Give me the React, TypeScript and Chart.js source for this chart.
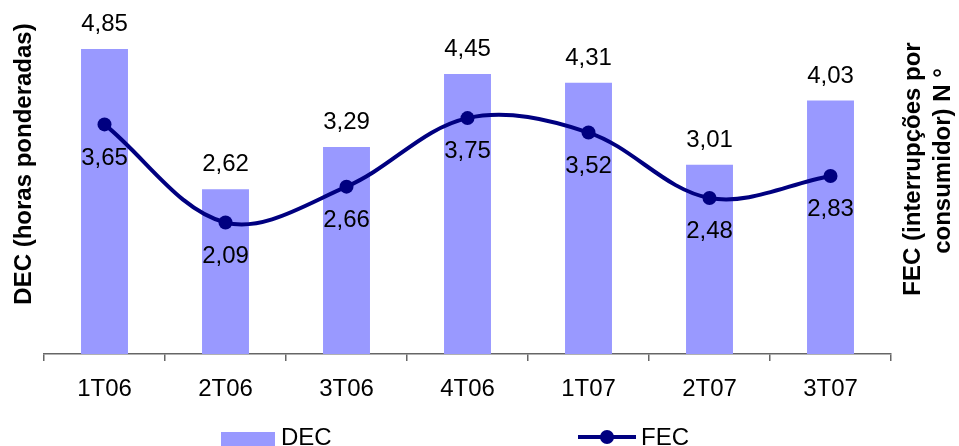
import React, { useEffect, useRef } from "react";
import { Chart, registerables } from "chart.js";

Chart.register(...registerables);

// Quarterly reliability indicators
const quarters = ["1T06", "2T06", "3T06", "4T06", "1T07", "2T07", "3T07"];
const decValues = [4.85, 2.62, 3.29, 4.45, 4.31, 3.01, 4.03];
const fecValues = [3.65, 2.09, 2.66, 3.75, 3.52, 2.48, 2.83];

const leftTitle = "DEC (horas ponderadas)";
const rightTitleLines = ["FEC (interrupções por", "consumidor) N °"];

const FONT = "'Liberation Sans', Arial, Helvetica, sans-serif";
const BAR_COLOR = "#9999FF";
const LINE_COLOR = "#000080";
const AXIS_COLOR = "#666666";

const fmt = (v: number) => v.toFixed(2).replace(".", ",");

// Value labels: above the bars, below the line points
const valueLabels = {
  id: "valueLabels",
  afterDatasetsDraw(chart: Chart) {
    const ctx = chart.ctx;
    ctx.save();
    ctx.font = `24px ${FONT}`;
    ctx.fillStyle = "#000";
    ctx.textAlign = "center";
    ctx.textBaseline = "middle";
    chart.data.datasets.forEach((ds, i) => {
      const meta = chart.getDatasetMeta(i);
      meta.data.forEach((el: any, j: number) => {
        const v = ds.data[j] as number;
        if (meta.type === "bar") {
          ctx.fillText(fmt(v), el.x, el.y - 24.5);
        } else {
          ctx.fillText(fmt(v), el.x, el.y + 33.5);
        }
      });
    });
    ctx.restore();
  },
};

// Axis titles and the legend row
const sideTexts = {
  id: "sideTexts",
  afterDraw(chart: Chart) {
    const ctx = chart.ctx;
    ctx.save();
    ctx.fillStyle = "#000";
    ctx.font = `bold 24px ${FONT}`;
    ctx.textAlign = "center";
    ctx.textBaseline = "alphabetic";

    ctx.save();
    ctx.translate(31, 164);
    ctx.rotate(-Math.PI / 2);
    ctx.fillText(leftTitle, 0, 0);
    ctx.restore();

    const rightPos = [
      { x: 920, y: 169 },
      { x: 950, y: 161 },
    ];
    rightTitleLines.forEach((line, k) => {
      ctx.save();
      ctx.translate(rightPos[k].x, rightPos[k].y);
      ctx.rotate(-Math.PI / 2);
      ctx.fillText(line, 0, 0);
      ctx.restore();
    });

    // legend
    ctx.font = `24px ${FONT}`;
    ctx.textAlign = "left";
    ctx.fillStyle = BAR_COLOR;
    ctx.fillRect(221, 432, 54, 18);
    ctx.fillStyle = "#000";
    ctx.fillText("DEC", 281, 445);

    ctx.strokeStyle = LINE_COLOR;
    ctx.lineWidth = 4;
    ctx.beginPath();
    ctx.moveTo(578, 437);
    ctx.lineTo(636, 437);
    ctx.stroke();
    ctx.fillStyle = LINE_COLOR;
    ctx.beginPath();
    ctx.arc(607, 437, 7, 0, Math.PI * 2);
    ctx.fill();
    ctx.fillStyle = "#000";
    ctx.fillText("FEC", 641, 445);
    ctx.restore();
  },
};

export default function App() {
  const canvasRef = useRef<HTMLCanvasElement | null>(null);

  useEffect(() => {
    if (!canvasRef.current) return;
    const chart = new Chart(canvasRef.current, {
      type: "bar",
      data: {
        labels: quarters,
        datasets: [
          {
            type: "line",
            label: "FEC",
            data: fecValues,
            borderColor: LINE_COLOR,
            backgroundColor: LINE_COLOR,
            borderWidth: 4,
            pointRadius: 7,
            pointBackgroundColor: LINE_COLOR,
            pointBorderWidth: 0,
            tension: 0.35,
            order: 1,
          },
          {
            type: "bar",
            label: "DEC",
            data: decValues,
            backgroundColor: BAR_COLOR,
            borderWidth: 0,
            categoryPercentage: 1,
            barPercentage: 0.388,
            order: 2,
          },
        ],
      },
      options: {
        responsive: false,
        animation: false,
        layout: { padding: { left: 44, right: 68, top: 8, bottom: 0 } },
        plugins: {
          legend: { display: false },
          tooltip: { enabled: false },
        },
        scales: {
          x: {
            grid: {
              offset: true,
              drawOnChartArea: false,
              drawTicks: true,
              tickLength: 7,
              color: AXIS_COLOR,
              lineWidth: 1.5,
            },
            border: { display: true, color: AXIS_COLOR, width: 1.5 },
            ticks: {
              color: "#000",
              font: { family: FONT, size: 24 },
              padding: 14,
              maxRotation: 0,
            },
            afterFit(scale: any) {
              scale.height = 92;
            },
          },
          y: {
            display: false,
            min: 0,
            max: 5.5,
          },
        },
      },
      plugins: [valueLabels, sideTexts],
    });
    return () => chart.destroy();
  }, []);

  return (
    <div style={{ position: "absolute", left: 0, top: 0, width: 959, height: 446, background: "#fff" }}>
      <canvas ref={canvasRef} width={959} height={446} style={{ display: "block" }} />
    </div>
  );
}
